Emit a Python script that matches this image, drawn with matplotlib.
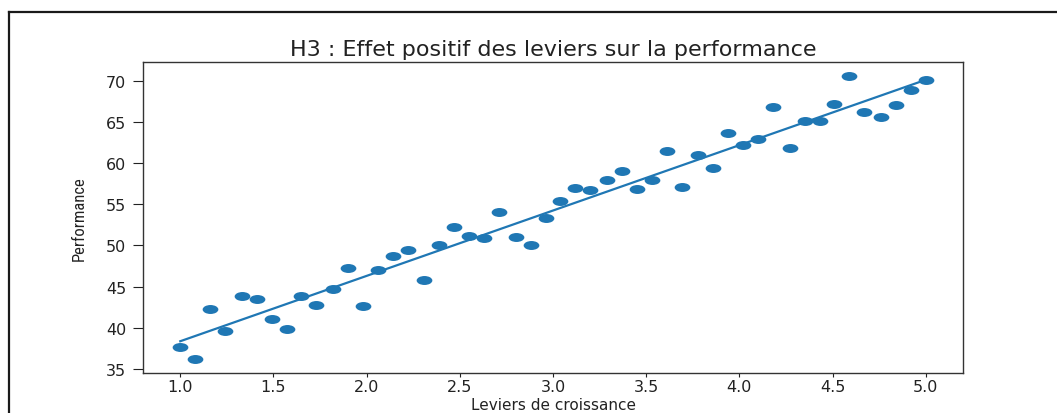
import numpy as np
import matplotlib
matplotlib.use("Agg")
import matplotlib.pyplot as plt
from matplotlib.path import Path
from matplotlib.lines import Line2D
from matplotlib.transforms import Affine2D

# data
leviers = [1.00, 1.08, 1.16, 1.24, 1.33, 1.41, 1.49, 1.57, 1.65, 1.73,
           1.82, 1.90, 1.98, 2.06, 2.14, 2.22, 2.31, 2.39, 2.47, 2.55,
           2.63, 2.71, 2.80, 2.88, 2.96, 3.04, 3.12, 3.20, 3.29, 3.37,
           3.45, 3.53, 3.61, 3.69, 3.78, 3.86, 3.94, 4.02, 4.10, 4.18,
           4.27, 4.35, 4.43, 4.51, 4.59, 4.67, 4.76, 4.84, 4.92, 5.00]
performance = [37.6, 36.2, 42.3, 39.6, 43.9, 43.5, 41.1, 39.8, 43.8, 42.7,
               44.7, 47.3, 42.6, 47.0, 48.7, 49.5, 45.8, 50.0, 52.2, 51.1,
               50.9, 54.1, 51.0, 50.0, 53.4, 55.4, 57.0, 56.7, 58.0, 59.1,
               56.9, 58.0, 61.5, 57.1, 61.0, 59.4, 63.7, 62.2, 62.9, 66.9,
               61.9, 65.2, 65.1, 67.2, 70.6, 66.2, 65.6, 67.1, 68.9, 70.1]
xticks = [1.0, 1.5, 2.0, 2.5, 3.0, 3.5, 4.0, 4.5, 5.0]
yticks = [35, 40, 45, 50, 55, 60, 65, 70]

# the screenshot is stretched sideways, so dots are ellipses
ellipse = Path.unit_circle().transformed(Affine2D().scale(1.0, 0.57))

fig = plt.figure(figsize=(10.57, 4.14), dpi=100)
ax = fig.add_axes([0.1353, 0.0966, 0.7758, 0.7512])

x = np.array(leviers)
y = np.array(performance)
ax.scatter(x, y, s=128, marker=ellipse, color='#1f77b4', linewidths=0)
a, b = np.polyfit(x, y, 1)
ax.plot(x, a * x + b, color='#1f77b4', lw=1.6)

ax.set_xticks(xticks)
ax.set_yticks(yticks)
ax.set_xticklabels(['%.1f' % t for t in xticks])
ax.tick_params(axis='both', labelsize=11.5, colors='#222222')
ax.tick_params(axis='x', length=3, pad=1.5)
ax.tick_params(axis='y', length=7, pad=5)
for sp in ax.spines.values():
    sp.set_color('#333333')
    sp.set_linewidth(1.0)

ax.set_title('H3 : Effet positif des leviers sur la performance', fontsize=16,
             color='#222222', pad=5)
ax.set_xlabel('Leviers de croissance', fontsize=11, color='#222222')
# keep the axis label just inside the bottom edge
ax.xaxis.set_label_coords(0.5, -1.0 / 311 * 39)
ax.xaxis.label.set_va('bottom')
ax.set_ylabel('Performance', fontsize=12, color='#222222', labelpad=14,
              family=['Liberation Sans Narrow', 'Roboto Condensed',
                      'Open Sans Condensed', 'DejaVu Sans'])

# black frame of the screenshot
fig.add_artist(Line2D([9 / 1057, 1.0], [1 - 13 / 414, 1 - 13 / 414],
                      transform=fig.transFigure, color='#1a1a1a', lw=1.6))
fig.add_artist(Line2D([9 / 1057, 9 / 1057], [0.0, 1 - 13 / 414],
                      transform=fig.transFigure, color='#1a1a1a', lw=1.6))

fig.savefig('out.png', dpi=100)
